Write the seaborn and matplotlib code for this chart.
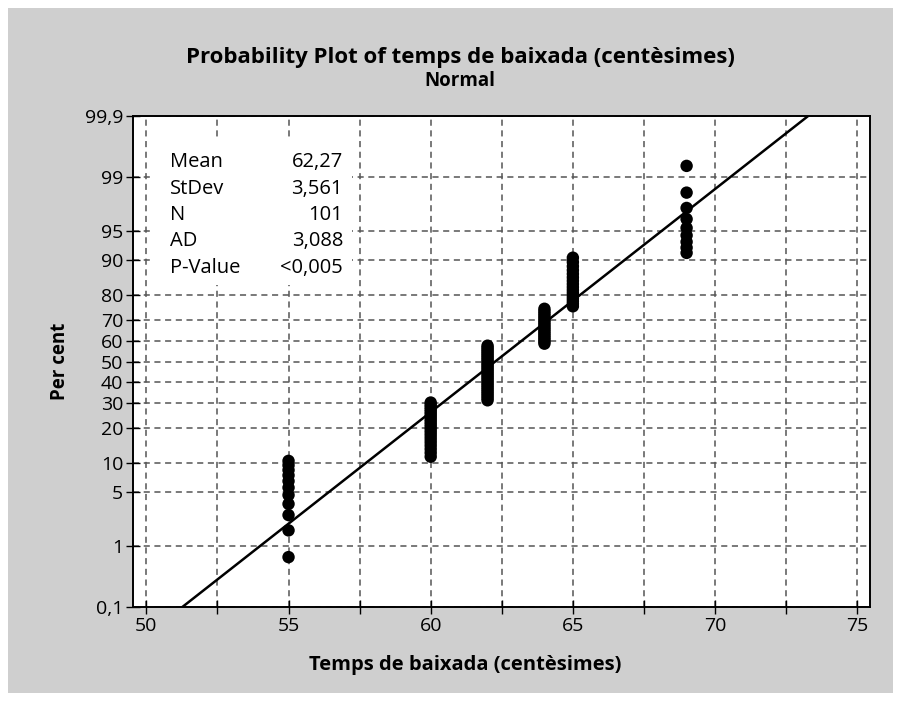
import matplotlib
matplotlib.use("Agg")
import matplotlib.pyplot as plt
import matplotlib.ticker as mticker
from matplotlib.patches import Rectangle
from statistics import NormalDist
import numpy as np
import pandas as pd
import seaborn as sns

# observed times and how often each one occurs (N = 101)
values = [55, 60, 62, 64, 65, 69]
counts = [11, 20, 28, 17, 16, 9]

# summary box
stat_names = ["Mean", "StDev", "N", "AD", "P-Value"]
stat_values = ["62,27", "3,561", "101", "3,088", "<0,005"]
mean, sd = 62.27, 3.561

pct_ticks = [0.1, 1, 5, 10, 20, 30, 40, 50, 60, 70, 80, 90, 95, 99, 99.9]
x_ticks = [50, 55, 60, 65, 70, 75]

sns.set_style("ticks")
plt.rcParams["font.family"] = ["Open Sans", "DejaVu Sans"]
plt.rcParams.update({"text.color": "black", "axes.labelcolor": "black",
                     "xtick.color": "black", "ytick.color": "black"})

# probability plot positions (Minitab median ranks)
x = np.repeat(values, counts)
n = len(x)
df = pd.DataFrame({"x": x, "pct": (np.arange(1, n + 1) - 0.3) / (n + 0.4) * 100})

nd = NormalDist()
def fwd(p):
    p = np.clip(np.asarray(p, dtype=float), 1e-6, 100 - 1e-6)
    return np.vectorize(lambda v: nd.inv_cdf(v / 100), otypes=[float])(p)

def inv(z):
    return np.vectorize(lambda v: nd.cdf(v) * 100, otypes=[float])(np.asarray(z, dtype=float))

fig = plt.figure(figsize=(9.01, 7.01), dpi=100, facecolor="white")
fig.patches.append(Rectangle((8 / 901, 8 / 701), 885 / 901, 685 / 701,
                             transform=fig.transFigure, facecolor="#cfcfcf",
                             edgecolor="none", zorder=-10))
ax = fig.add_axes([133 / 901, 1 - 607 / 701, 737 / 901, 491 / 701])
ax.set_facecolor("white")
ax.set_axisbelow(True)
ax.set_yscale("function", functions=(fwd, inv))

# fitted normal line
line_pct = np.array([0.1, 99.9])
line_x = mean + sd * fwd(line_pct)
ax.plot(line_x, line_pct, color="black", lw=1.8, zorder=3)

sns.scatterplot(data=df, x="x", y="pct", ax=ax, color="black", s=80,
                edgecolor="none", zorder=4)

ax.set_xlim(49.53, 75.45)
ax.set_ylim(0.1, 99.9)
ax.set_xticks(x_ticks)
ax.set_xticks(np.arange(52.5, 75, 5), minor=True)
ax.set_yticks(pct_ticks)
ax.yaxis.set_minor_locator(mticker.NullLocator())
ax.set_yticklabels([f"{p:g}".replace(".", ",") for p in pct_ticks])

ax.grid(True, which="both", axis="x", color="#555555", ls=(0, (4, 3)), lw=1.1)
ax.grid(True, which="major", axis="y", color="#555555", ls=(0, (4, 3)), lw=1.1)
ax.tick_params(axis="both", which="both", direction="inout", length=10, width=1,
               color="black", labelcolor="black", labelsize=14, pad=2)
for s in ax.spines.values():
    s.set_color("black")
    s.set_linewidth(1.4)

ax.set_xlabel("Temps de baixada (centèsimes)", fontsize=14.5, fontweight="bold")
ax.xaxis.set_label_coords(0.4505, -0.097)
ax.set_ylabel("Per cent", fontsize=13.5, fontweight="bold")
ax.yaxis.set_label_coords(-0.086, 0.5)

# stats legend sits on a white patch that hides the grid
ax.add_patch(Rectangle((0.023, 0.656), 0.274, 0.301, transform=ax.transAxes,
                       facecolor="white", edgecolor="none", zorder=1))
for i, (name, val) in enumerate(zip(stat_names, stat_values)):
    yy = 0.906 - i * 0.0537
    ax.text(0.050, yy, name, transform=ax.transAxes, fontsize=14.5, va="center",
            ha="left", zorder=2)
    ax.text(0.285, yy, val, transform=ax.transAxes, fontsize=14.5, va="center",
            ha="right", zorder=2)

fig.text(460 / 901, 1 - 57 / 701, "Probability Plot of temps de baixada (centèsimes)",
         ha="center", va="center", fontsize=16, fontweight="bold")
fig.text(460 / 901, 1 - 81 / 701, "Normal", ha="center", va="center",
         fontsize=13.5, fontweight="bold")

fig.savefig("out.png", dpi=100, facecolor=fig.get_facecolor())
